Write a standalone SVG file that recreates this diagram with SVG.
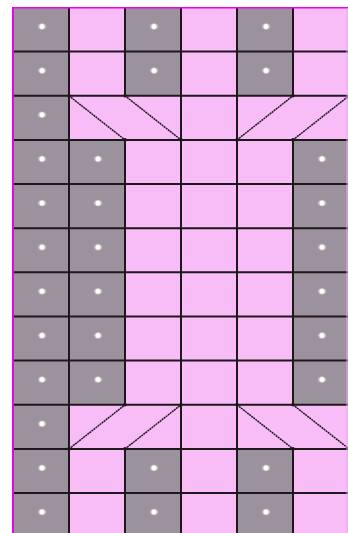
<svg xmlns="http://www.w3.org/2000/svg" width="348" height="533" viewBox="0 0 348 533">
<style>
.pk{fill:#f8bcf6}
.gy{fill:#9c929d}
.ln{stroke:#1c181c;stroke-width:2;fill:none}
.dg{stroke:#1c181c;stroke-width:1.5;fill:none;stroke-dasharray:2 0.6}
.jt{fill:#1c181c}
.bd{fill:#ee00ee}
</style>
<defs>
<radialGradient id="glow">
<stop offset="0" stop-color="#ffffff"/>
<stop offset="0.5" stop-color="#fdfcf8"/>
<stop offset="1" stop-color="#9c929d" stop-opacity="0"/>
</radialGradient>
<radialGradient id="blue">
<stop offset="0" stop-color="#b8d8f0"/>
<stop offset="1" stop-color="#b8d8f0" stop-opacity="0"/>
</radialGradient>
<radialGradient id="warm">
<stop offset="0" stop-color="#f4e4b8"/>
<stop offset="1" stop-color="#f4e4b8" stop-opacity="0"/>
</radialGradient>
<g id="dot">
<circle cx="-1.5" r="3.5" fill="url(#blue)"/>
<circle cx="1.5" r="3.5" fill="url(#warm)"/>
<circle r="4.2" fill="url(#glow)"/>
</g>
</defs>
<rect x="0" y="0" width="348" height="533" fill="#ffffff"/>
<rect class="pk" x="13" y="7.5" width="335" height="526"/>
<g id="gray-cells" class="gy">
<rect x="13" y="7.5" width="56" height="526"/>
<rect x="125" y="7.5" width="56" height="88.3"/>
<rect x="237" y="7.5" width="56" height="88.3"/>
<rect x="125" y="448.9" width="56" height="85"/>
<rect x="237" y="448.9" width="56" height="85"/>
<rect x="69" y="139.9" width="56" height="264.9"/>
<rect x="293" y="139.9" width="56" height="264.9"/>
</g>
<g id="dots">
<use href="#dot" x="42" y="26.5"/><use href="#dot" x="42" y="70.6"/><use href="#dot" x="42" y="114.8"/>
<use href="#dot" x="42" y="158.9"/><use href="#dot" x="42" y="203.1"/><use href="#dot" x="42" y="247.2"/>
<use href="#dot" x="42" y="291.3"/><use href="#dot" x="42" y="335.5"/><use href="#dot" x="42" y="379.6"/>
<use href="#dot" x="42" y="423.8"/><use href="#dot" x="42" y="467.9"/><use href="#dot" x="42" y="512"/>
<use href="#dot" x="154" y="26.5"/><use href="#dot" x="154" y="70.6"/>
<use href="#dot" x="266" y="26.5"/><use href="#dot" x="266" y="70.6"/>
<use href="#dot" x="154" y="467.9"/><use href="#dot" x="154" y="512"/>
<use href="#dot" x="266" y="467.9"/><use href="#dot" x="266" y="512"/>
<use href="#dot" x="98" y="158.9"/><use href="#dot" x="98" y="203.1"/><use href="#dot" x="98" y="247.2"/>
<use href="#dot" x="98" y="291.3"/><use href="#dot" x="98" y="335.5"/><use href="#dot" x="98" y="379.6"/>
<use href="#dot" x="322" y="158.9"/><use href="#dot" x="322" y="203.1"/><use href="#dot" x="322" y="247.2"/>
<use href="#dot" x="322" y="291.3"/><use href="#dot" x="322" y="335.5"/><use href="#dot" x="322" y="379.6"/>
</g>
<g id="grid" class="ln">
<path d="M13 51.6H348M13 95.8H348M13 139.9H348M13 184.1H348M13 228.2H348M13 272.3H348M13 316.5H348M13 360.6H348M13 404.8H348M13 448.9H348M13 493H348"/>
<path d="M69 7.5V533M181 7.5V533M237 7.5V533"/>
<path d="M125 7.5V95.8M125 139.9V404.8M125 448.9V533"/>
<path d="M293 7.5V95.8M293 139.9V404.8M293 448.9V533"/>
</g>
<g id="diagonals" class="dg">
<path d="M69 95.8L125 139.9M125 95.8L181 139.9M237 139.9L293 95.8M293 139.9L349 95.8"/>
<path d="M69 448.9L125 404.8M125 448.9L181 404.8M237 404.8L293 448.9M293 404.8L349 448.9"/>
</g>
<g id="joints" class="jt">
<circle cx="69" cy="95.8" r="1.8"/><circle cx="125" cy="139.9" r="1.8"/><circle cx="125" cy="95.8" r="1.8"/><circle cx="181" cy="139.9" r="1.8"/>
<circle cx="237" cy="139.9" r="1.8"/><circle cx="293" cy="95.8" r="1.8"/><circle cx="293" cy="139.9" r="1.8"/>
<circle cx="69" cy="448.9" r="1.8"/><circle cx="125" cy="404.8" r="1.8"/><circle cx="125" cy="448.9" r="1.8"/><circle cx="181" cy="404.8" r="1.8"/>
<circle cx="237" cy="404.8" r="1.8"/><circle cx="293" cy="448.9" r="1.8"/><circle cx="293" cy="404.8" r="1.8"/>
</g>
<g id="border">
<rect class="bd" x="12" y="7" width="2" height="526"/>
<rect class="bd" x="12" y="7" width="336" height="1.5"/>
<rect x="346.5" y="8.5" width="1" height="525" fill="#f2a6f0"/>
</g>
</svg>
